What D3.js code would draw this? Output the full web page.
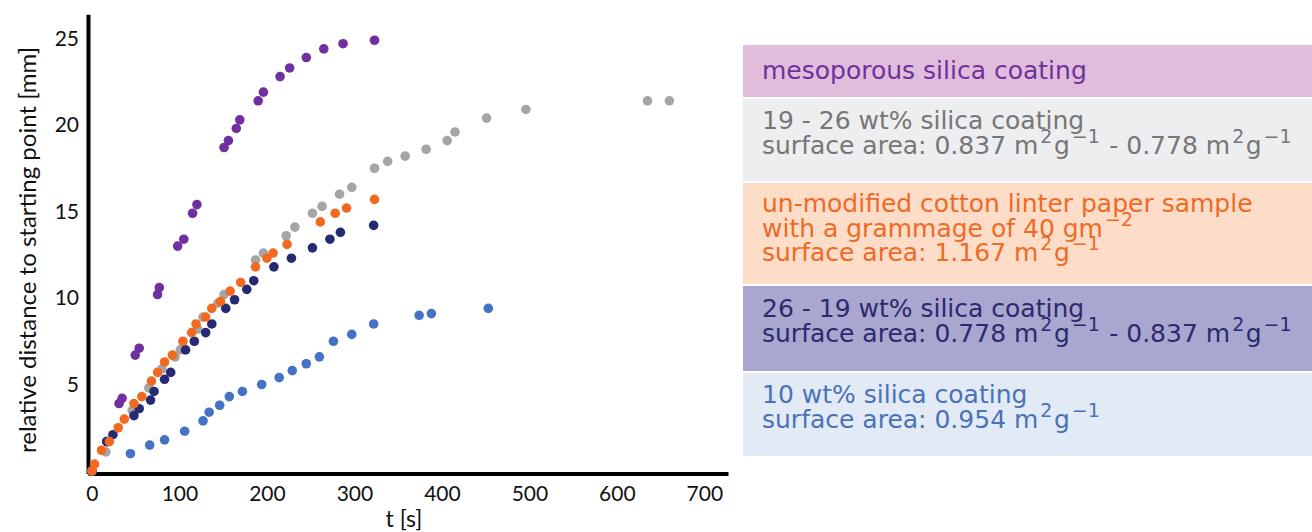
<!DOCTYPE html>
<html>
<head>
<meta charset="utf-8">
<script src="https://cdn.jsdelivr.net/npm/d3@7"></script>
<style>
  body { margin: 0; background: #fff; }
  svg { display: block; }
</style>
</head>
<body>
<svg id="chart" width="1312" height="532"></svg>
<script>
// series: [t in s, distance in mm]
var mesoporous = [[17,1.7],[31,3.9],[34.5,4.2],[49.5,6.7],[54,7.1],[75,10.2],[77,10.6],[98,13.0],[105,13.4],
  [115,14.9],[120,15.4],[151,18.7],[156,19.1],[165,19.8],[169,20.3],[190,21.4],[196,21.9],[215,22.8],
  [226,23.3],[245,23.9],[265,24.4],[287,24.7],[323,24.9]];
var silica19_26 = [[0,0],[16,1.1],[46,3.5],[65,4.8],[80,5.9],[95,6.6],[101,7.0],[121,8.2],[127,8.9],[144,9.7],
  [151,10.2],[187,12.2],[196,12.6],[222,13.6],[232,14.1],[252,14.9],[263,15.3],[283,16.0],[297,16.4],
  [323,17.5],[338,17.9],[358,18.2],[382,18.6],[406,19.1],[415,19.6],[451,20.4],[496,20.9],[635,21.4],[660,21.4]];
var silica10 = [[0,0],[44,1.0],[66,1.5],[83,1.8],[106,2.3],[127,2.9],[134,3.4],[146,3.8],[157,4.3],[172,4.6],
  [194,5.0],[214,5.4],[229,5.8],[245,6.2],[260,6.6],[276,7.5],[297,7.9],[322,8.5],[374,9.0],[388,9.1],[453,9.4]];
var silica26_19 = [[0,0],[17,1.7],[24,2.1],[48,3.2],[54,3.6],[67,4.1],[71,4.6],[83,5.3],[90,5.7],[107,7.0],
  [117,7.5],[130,8.0],[137,8.5],[153,9.4],[163,9.9],[177,10.5],[185,11.0],[208,11.8],[228,12.3],[252,12.9],
  [272,13.4],[284,13.8],[322,14.2]];
var unmodified = [[0,0],[3,0.4],[11,1.2],[20,1.7],[30,2.5],[37,3.0],[48,3.9],[57,4.3],[68,5.2],[75,5.7],
  [83,6.3],[92,6.7],[104,7.5],[114,8.0],[119,8.5],[130,8.9],[137,9.4],[147,9.8],[158,10.4],[170,10.9],
  [187,11.8],[200,12.3],[207,12.6],[223,13.1],[261,14.4],[278,14.9],[291,15.2],[323,15.7]];

var xTicks = [0, 100, 200, 300, 400, 500, 600, 700];
var yTicks = [5, 10, 15, 20, 25];

// drawing order = stacking order seen in the picture
var series = [
  { points: mesoporous, color: "#7030a0" },
  { points: silica19_26, color: "#a5a5a5" },
  { points: silica10, color: "#4472c4" },
  { points: silica26_19, color: "#262a72" },
  { points: unmodified, color: "#f26a22" }
];

// legend text, one entry per box; each line is a list of [text, superscript?]
var legendLines = [
  [ [["mesoporous silica coating"]] ],
  [ [["19 - 26 wt% silica coating"]],
    [["surface area: 0.837 m"], ["2", true], ["g"], ["\u22121", true], [" - 0.778 m"], ["2", true], ["g"], ["\u22121", true]] ],
  [ [["un-modified cotton linter paper sample"]],
    [["with a grammage of 40 gm"], ["\u22122", true]],
    [["surface area: 1.167 m"], ["2", true], ["g"], ["\u22121", true]] ],
  [ [["26 - 19 wt% silica coating"]],
    [["surface area: 0.778 m"], ["2", true], ["g"], ["\u22121", true], [" - 0.837 m"], ["2", true], ["g"], ["\u22121", true]] ],
  [ [["10 wt% silica coating"]],
    [["surface area: 0.954 m"], ["2", true], ["g"], ["\u22121", true]] ]
];
var legendFill = ["#e0bdda", "#eceeef", "#fddcc8", "#a9a6cf", "#e2eaf5"];
var legendText = ["#7030a0", "#767676", "#ef6a25", "#2b2a6e", "#4a72b8"];

var svg = d3.select("#chart");

var x = d3.scaleLinear().domain([-4.5, 727]).range([88, 728]);
var y = d3.scaleLinear().domain([-0.15, 26.4]).range([473.6, 14.3]);

var tickFont = "Lato, 'Open Sans', sans-serif";

/************************* AXES ******************************/

var xAxis = svg.append("g")
  .attr("transform", "translate(0," + y(-0.15) + ")")
  .call(d3.axisBottom(x).tickValues(xTicks).tickSize(0).tickPadding(12));

var yAxis = svg.append("g")
  .attr("transform", "translate(" + x(-4.5) + ",0)")
  .call(d3.axisLeft(y).tickValues(yTicks).tickSize(0).tickPadding(9));

[xAxis, yAxis].forEach(function (g) {
  g.select(".domain").attr("stroke", "#000").attr("stroke-width", 4);
  g.selectAll("text")
    .attr("font-family", tickFont)
    .attr("font-size", 21)
    .attr("fill", "#111");
});

svg.append("text")
  .attr("x", 404)
  .attr("y", 527)
  .attr("text-anchor", "middle")
  .attr("font-family", tickFont)
  .attr("font-size", 23)
  .attr("fill", "#111")
  .text("t [s]");

svg.append("text")
  .attr("transform", "translate(36,250) rotate(-90)")
  .attr("text-anchor", "middle")
  .attr("font-family", tickFont)
  .attr("font-size", 24)
  .attr("fill", "#111")
  .text("relative distance to starting point [mm]");

/************************* POINTS ******************************/

series.forEach(function (s) {
  svg.append("g")
    .selectAll("circle")
    .data(s.points)
    .enter()
    .append("circle")
    .attr("cx", function (d) { return x(d[0]) })
    .attr("cy", function (d) { return y(d[1]) })
    .attr("r", 4.8)
    .attr("fill", s.color);
});

/************************* LEGEND ******************************/

var boxTop = [45, 99, 183, 286, 373];
var boxBottom = [97, 181, 284, 371, 456];
var firstBase = [79, 129, 212, 317, 403];
var lineGap = 24.7;

var legend = svg.append("g");

legendLines.forEach(function (lines, i) {
  legend.append("rect")
    .attr("x", 743)
    .attr("y", boxTop[i])
    .attr("width", 1312 - 743)
    .attr("height", boxBottom[i] - boxTop[i])
    .attr("fill", legendFill[i]);

  lines.forEach(function (segments, j) {
    var t = legend.append("text")
      .attr("x", 762)
      .attr("y", firstBase[i] + j * lineGap)
      .attr("font-family", "'DejaVu Sans', Verdana, sans-serif")
      .attr("font-size", 25)
      .attr("fill", legendText[i]);

    var raised = false;
    segments.forEach(function (seg) {
      var sup = seg[1] === true;
      var shift = 0;
      if (sup && !raised) shift = -11;
      if (!sup && raised) shift = 11;
      raised = sup;
      t.append("tspan")
        .attr("dy", shift)
        .attr("dx", sup ? 2 : (shift ? 1.5 : 0))
        .attr("font-size", sup ? 19 : 25)
        .text(seg[0]);
    });
  });
});
</script>
</body>
</html>
